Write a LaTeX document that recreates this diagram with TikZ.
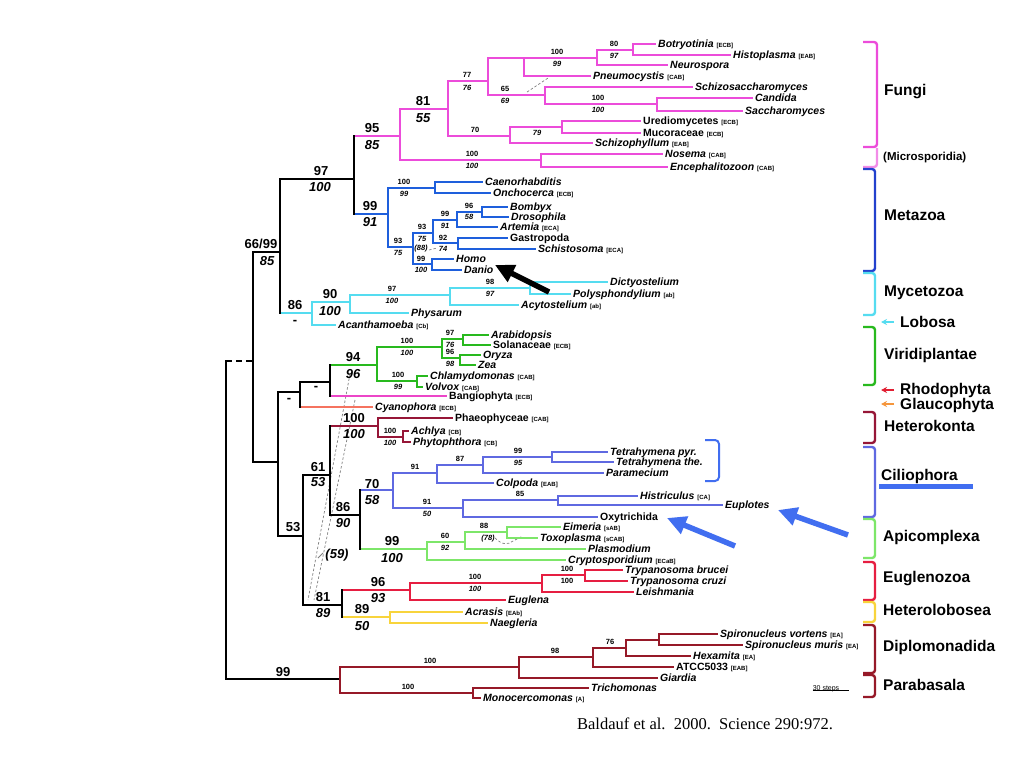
\documentclass[tikz,border=0pt]{standalone}
\usepackage{fontspec}
\setmainfont{Liberation Sans}
\newfontfamily\capfont{Liberation Serif}
\usetikzlibrary{arrows.meta}
\definecolor{cFu}{RGB}{236,76,218}
\definecolor{cFuL}{RGB}{242,140,232}
\definecolor{cMz}{RGB}{30,95,220}
\definecolor{cMzB}{RGB}{35,65,205}
\definecolor{cCy}{RGB}{85,220,240}
\definecolor{cGr}{RGB}{40,185,30}
\definecolor{cBa}{RGB}{236,70,200}
\definecolor{cCn}{RGB}{245,115,95}
\definecolor{cMr}{RGB}{150,22,55}
\definecolor{cCi}{RGB}{95,105,225}
\definecolor{cAp}{RGB}{125,230,105}
\definecolor{cEu}{RGB}{230,30,65}
\definecolor{cYl}{RGB}{248,212,60}
\definecolor{cDp}{RGB}{150,25,40}
\definecolor{cAr}{RGB}{65,110,240}
\definecolor{cRh}{RGB}{225,30,50}
\definecolor{cGl}{RGB}{245,150,60}
\newcommand{\tg}[1]{{\fontsize{6}{7}\selectfont\upshape[#1]}}
\newcommand{\edge}[4]{\draw[#2] (#3 |- #4) -- (#4); \draw[#1] (#3) -- (#3 |- #4);}
\begin{document}
\begin{tikzpicture}[x=1pt,y=-1pt,
  br/.style={line width=2.5pt,line cap=rect},
  bk/.style={br,black,line width=2.8pt},
  fu/.style={br,cFu}, mz/.style={br,cMz}, cy/.style={br,cCy}, gr/.style={br,cGr},
  ba/.style={br,cBa}, cn/.style={br,cCn}, mr/.style={br,cMr}, ci/.style={br,cCi},
  ap/.style={br,cAp}, eu/.style={br,cEu}, yl/.style={br,cYl}, dp/.style={br,cDp},
  tx/.style={anchor=west,inner xsep=3pt,inner ysep=0pt,text height=7.5pt,text depth=0pt,font=\fontsize{10.5}{12}\selectfont\bfseries\itshape},
  txu/.style={tx,font=\fontsize{10.5}{12}\selectfont\bfseries},
  sv/.style={inner sep=0pt,font=\fontsize{7.5}{9}\selectfont\bfseries},
  svi/.style={inner sep=0pt,font=\fontsize{7.5}{9}\selectfont\bfseries\itshape},
  bv/.style={inner sep=0pt,font=\fontsize{13}{15}\selectfont\bfseries},
  bvi/.style={inner sep=0pt,font=\fontsize{13}{15}\selectfont\bfseries\itshape},
  grp/.style={anchor=west,inner sep=0pt,font=\fontsize{15.5}{18}\selectfont\bfseries},
  brk/.style={line width=2.4pt,rounded corners=3pt},
  hint/.style={gray,line width=0.7pt,dash pattern=on 2.5pt off 2pt},
  bigarrow/.style={line width=5.5pt,-{Triangle[length=19pt,width=18pt]}},
  smallarrow/.style={line width=1.6pt,-{Stealth[length=6pt,width=6pt]}},
]
\fill[white] (0,0) rectangle (1024,768);
\useasboundingbox (0,0) rectangle (1024,768);

% ---------- internal nodes ----------
\coordinate (R) at (226,520);
\coordinate (N66) at (253,361);
\coordinate (N97) at (280,252);
\coordinate (N95) at (354,179);
\coordinate (Nb1) at (278,462);
\coordinate (Nrg) at (300,392);
\coordinate (Nvb) at (330,382);
\coordinate (Nb2) at (303,536);
\coordinate (Nb3) at (330,475);
\coordinate (Nb4) at (360,515);
\coordinate (Nb5) at (342,605);
\coordinate (Nd0) at (340,679);
\coordinate (Nf0) at (400,136);
\coordinate (Nf1) at (448,109);
\coordinate (Nf2) at (488,81);
\coordinate (Nf2a) at (524,58);
\coordinate (Nf3) at (597,58);
\coordinate (Nf4) at (633,50);
\coordinate (Nf5) at (545,95);
\coordinate (Nf6) at (657,104);
\coordinate (Nf7) at (510,136);
\coordinate (Nf8) at (562,127);
\coordinate (Nf9) at (541,160);
\coordinate (Nm0) at (388,214);
\coordinate (Nm1) at (435,188);
\coordinate (Nm2) at (413,247);
\coordinate (Nm3) at (433,233);
\coordinate (Nm4) at (457,220);
\coordinate (Nm5) at (482,212);
\coordinate (Nm6) at (458,243);
\coordinate (Nm7) at (432,264);
\coordinate (Nc0) at (312,313);
\coordinate (Nc1) at (350,302);
\coordinate (Nc2) at (450,295);
\coordinate (Nc3) at (530,288);
\coordinate (Nv0) at (377,365);
\coordinate (Nv1) at (442,347);
\coordinate (Nv2) at (463,339);
\coordinate (Nv3) at (460,358);
\coordinate (Nv4) at (417,381);
\coordinate (Nh0) at (378,426);
\coordinate (Nh1) at (403,437);
\coordinate (Nci0) at (393,490);
\coordinate (Nci1) at (437,473);
\coordinate (Nci2) at (483,465);
\coordinate (Nci3) at (552,457);
\coordinate (Nci4) at (463,508);
\coordinate (Nci5) at (558,500);
\coordinate (Na0) at (427,549);
\coordinate (Na1) at (465,542);
\coordinate (Na2) at (507,532);
\coordinate (Ne0) at (410,590);
\coordinate (Ne1) at (542,583);
\coordinate (Ne2) at (585,575);
\coordinate (Nhl) at (390,617);
\coordinate (Nd1) at (519,667);
\coordinate (Nd2) at (593,657);
\coordinate (Nd3) at (626,648);
\coordinate (Nd4) at (659,640);
\coordinate (Np) at (473,693);

% ---------- leaves ----------
\node[tx] (bot) at (655,44) {Botryotinia \tg{ECB}};
\node[tx] (his) at (730,55) {Histoplasma \tg{EAB}};
\node[tx] (neu) at (667,65) {Neurospora};
\node[tx] (pne) at (590,76) {Pneumocystis \tg{CAB}};
\node[tx] (sch) at (692,87) {Schizosaccharomyces};
\node[tx] (can) at (752,98) {Candida};
\node[tx] (sac) at (742,111) {Saccharomyces};
\node[txu] (ure) at (640,121) {Urediomycetes \tg{ECB}};
\node[txu] (muc) at (640,133) {Mucoraceae \tg{ECB}};
\node[tx] (szp) at (592,143) {Schizophyllum \tg{EAB}};
\node[tx] (nos) at (662,154) {Nosema \tg{CAB}};
\node[tx] (enc) at (667,167) {Encephalitozoon \tg{CAB}};
\node[tx] (cae) at (482,182) {Caenorhabditis};
\node[tx] (onc) at (490,193) {Onchocerca \tg{ECB}};
\node[tx] (bom) at (507,207) {Bombyx};
\node[tx] (dro) at (508,217) {Drosophila};
\node[tx] (art) at (497,227) {Artemia \tg{ECA}};
\node[txu] (gas) at (507,238) {Gastropoda};
\node[tx] (sct) at (535,249) {Schistosoma \tg{ECA}};
\node[tx] (hom) at (453,259) {Homo};
\node[tx] (dan) at (461,270) {Danio};
\node[tx] (dic) at (607,282) {Dictyostelium};
\node[tx] (pol) at (570,294) {Polysphondylium \tg{ab}};
\node[tx] (acy) at (518,305) {Acytostelium \tg{ab}};
\node[tx] (phy) at (408,313) {Physarum};
\node[tx] (aca) at (335,325) {Acanthamoeba \tg{Cb}};
\node[tx] (ara) at (488,335) {Arabidopsis};
\node[txu] (sol) at (490,345) {Solanaceae \tg{ECB}};
\node[tx] (ory) at (480,355) {Oryza};
\node[tx] (zea) at (475,365) {Zea};
\node[tx] (chl) at (427,376) {Chlamydomonas \tg{CAB}};
\node[tx] (vol) at (422,387) {Volvox \tg{CAB}};
\node[txu] (ban) at (446,396) {Bangiophyta \tg{ECB}};
\node[tx] (cya) at (372,407) {Cyanophora \tg{ECB}};
\node[txu] (pha) at (452,418) {Phaeophyceae \tg{CAB}};
\node[tx] (ach) at (408,431) {Achlya \tg{CB}};
\node[tx] (pht) at (410,442) {Phytophthora \tg{CB}};
\node[tx] (tpy) at (607,452) {Tetrahymena pyr.};
\node[tx] (tth) at (613,462) {Tetrahymena the.};
\node[tx] (par) at (603,473) {Paramecium};
\node[tx] (col) at (493,483) {Colpoda \tg{EAB}};
\node[tx] (hst) at (637,496) {Histriculus \tg{CA}};
\node[tx] (eup) at (722,505) {Euplotes};
\node[txu] (oxy) at (597,517) {Oxytrichida};
\node[tx] (eim) at (560,527) {Eimeria \tg{sAB}};
\node[tx] (tox) at (537,538) {Toxoplasma \tg{sCAB}};
\node[tx] (pla) at (585,549) {Plasmodium};
\node[tx] (cry) at (565,560) {Cryptosporidium \tg{ECaB}};
\node[tx] (tbr) at (622,570) {Trypanosoma brucei};
\node[tx] (tcr) at (627,581) {Trypanosoma cruzi};
\node[tx] (lei) at (633,592) {Leishmania};
\node[tx] (eug) at (505,600) {Euglena};
\node[tx] (acr) at (462,612) {Acrasis \tg{EAb}};
\node[tx] (nae) at (487,623) {Naegleria};
\node[tx] (svo) at (717,634) {Spironucleus vortens \tg{EA}};
\node[tx] (smu) at (742,645) {Spironucleus muris \tg{EA}};
\node[tx] (hex) at (690,656) {Hexamita \tg{EA}};
\node[txu] (atc) at (673,667) {ATCC5033 \tg{EAB}};
\node[tx] (gia) at (657,678) {Giardia};
\node[tx] (tri) at (588,688) {Trichomonas};
\node[tx] (mon) at (480,698) {Monocercomonas \tg{A}};

% ---------- hint lines ----------
\draw[hint] (350,374) -- (308,600);
\draw[hint] (355,400) -- (314,600);
\draw[hint] (527,92) -- (548,78);
\draw[hint] (429,250) -- (437,248);
\draw[hint] (495,538) .. controls (502,545) and (508,545) .. (513,541) -- (523,536);
\draw[gray,line width=0.8pt] (318,558) -- (323,553);

% ---------- backbone ----------
\draw[bk] (R) -- (R |- N66);
\draw[bk,line cap=butt,dash pattern=on 6pt off 4pt] (R |- N66) -- (N66);
\draw[bk] (R) |- (Nd0);
\draw[bk] (N66) |- (N97) (N66) |- (Nb1) (N97) |- (N95) (Nb1) |- (Nrg) (Nb1) |- (Nb2)
  (Nb2) |- (Nb3) (Nb2) |- (Nb5) (Nb3) |- (Nb4) (Nrg) |- (Nvb);
\edge{bk}{fu}{N95}{Nf0}
\edge{bk}{mz}{N95}{Nm0}
\edge{bk}{cy}{N97}{Nc0}
\edge{bk}{gr}{Nvb}{Nv0}
\edge{bk}{ba}{Nvb}{ban.west}
\edge{bk}{cn}{Nrg}{cya.west}
\edge{bk}{mr}{Nb3}{Nh0}
\edge{bk}{ci}{Nb4}{Nci0}
\edge{bk}{ap}{Nb4}{Na0}
\edge{bk}{eu}{Nb5}{Ne0}
\edge{bk}{yl}{Nb5}{Nhl}

% ---------- clades ----------
\draw[fu] (Nf0) |- (Nf1) (Nf0) |- (Nf9)
  (Nf1) |- (Nf2) (Nf1) |- (Nf7)
  (Nf2) |- (Nf2a) (Nf2) |- (Nf5)
  (Nf2a) |- (Nf3) (Nf2a) |- (pne.west)
  (Nf3) |- (Nf4) (Nf3) |- (neu.west)
  (Nf4) |- (bot.west) (Nf4) |- (his.west)
  (Nf5) |- (sch.west) (Nf5) |- (Nf6)
  (Nf6) |- (can.west) (Nf6) |- (sac.west)
  (Nf7) |- (Nf8) (Nf7) |- (szp.west)
  (Nf8) |- (ure.west) (Nf8) |- (muc.west)
  (Nf9) |- (nos.west) (Nf9) |- (enc.west);
\draw[mz] (Nm0) |- (Nm1) (Nm0) |- (Nm2)
  (Nm1) |- (cae.west) (Nm1) |- (onc.west)
  (Nm2) |- (Nm3) (Nm2) |- (Nm7)
  (Nm3) |- (Nm4) (Nm3) |- (Nm6)
  (Nm4) |- (Nm5) (Nm4) |- (art.west)
  (Nm5) |- (bom.west) (Nm5) |- (dro.west)
  (Nm6) |- (gas.west) (Nm6) |- (sct.west)
  (Nm7) |- (hom.west) (Nm7) |- (dan.west);
\draw[cy] (Nc0) |- (Nc1) (Nc0) |- (aca.west) (Nc1) |- (Nc2) (Nc1) |- (phy.west)
  (Nc2) |- (Nc3) (Nc2) |- (acy.west) (Nc3) |- (dic.west) (Nc3) |- (pol.west);
\draw[gr] (Nv0) |- (Nv1) (Nv0) |- (Nv4) (Nv1) |- (Nv2) (Nv1) |- (Nv3)
  (Nv2) |- (ara.west) (Nv2) |- (sol.west) (Nv3) |- (ory.west) (Nv3) |- (zea.west)
  (Nv4) |- (chl.west) (Nv4) |- (vol.west);
\draw[mr] (Nh0) |- (pha.west) (Nh0) |- (Nh1) (Nh1) |- (ach.west) (Nh1) |- (pht.west);
\draw[ci] (Nci0) |- (Nci1) (Nci0) |- (Nci4) (Nci1) |- (Nci2) (Nci1) |- (col.west)
  (Nci2) |- (Nci3) (Nci2) |- (par.west) (Nci3) |- (tpy.west) (Nci3) |- (tth.west)
  (Nci4) |- (Nci5) (Nci4) |- (oxy.west) (Nci5) |- (hst.west) (Nci5) |- (eup.west);
\draw[ap] (Na0) |- (Na1) (Na0) |- (cry.west) (Na1) |- (Na2) (Na1) |- (pla.west)
  (Na2) |- (eim.west) (Na2) |- (tox.west);
\draw[eu] (Ne0) |- (Ne1) (Ne0) |- (eug.west) (Ne1) |- (Ne2) (Ne1) |- (lei.west)
  (Ne2) |- (tbr.west) (Ne2) |- (tcr.west);
\draw[yl] (Nhl) |- (acr.west) (Nhl) |- (nae.west);
\draw[dp] (Nd0) |- (Nd1) (Nd0) |- (Np) (Nd1) |- (Nd2) (Nd1) |- (gia.west)
  (Nd2) |- (Nd3) (Nd2) |- (atc.west) (Nd3) |- (Nd4) (Nd3) |- (hex.west)
  (Nd4) |- (svo.west) (Nd4) |- (smu.west) (Np) |- (tri.west) (Np) |- (mon.west);

% ---------- support values: backbone ----------
\node[bv] (b1) at (321,171) {97};      \node[bvi] (b2) at (320,187) {100};
\node[bv] (b3) at (261,244) {66/99};   \node[bvi] (b4) at (267,261) {85};
\node[bv] (b5) at (372,128) {95};      \node[bvi] (b6) at (372,145) {85};
\node[bv] (b7) at (423,101) {81};      \node[bvi] (b8) at (423,118) {55};
\node[bv] (b9) at (370,206) {99};      \node[bvi] (b10) at (370,222) {91};
\node[bv] (b11) at (295,305) {86};     \node[bv] (b12) at (295,322) {-};
\node[bv] (b13) at (330,294) {90};     \node[bvi] (b14) at (330,311) {100};
\node[bv] (b15) at (353,357) {94};     \node[bvi] (b16) at (353,374) {96};
\node[bv] (b17) at (316,388) {-};      \node[bv] (b18) at (289,400) {-};
\node[bv] (b19) at (293,527) {53};
\node[bv] (b20) at (318,467) {61};     \node[bvi] (b21) at (318,482) {53};
\node[bv] (b22) at (354,418) {100};    \node[bvi] (b23) at (354,434) {100};
\node[bv] (b24) at (343,507) {86};     \node[bvi] (b25) at (343,523) {90};
\node[bv] (b26) at (372,484) {70};     \node[bvi] (b27) at (372,500) {58};
\node[bv] (b28) at (392,541) {99};     \node[bvi] (b29) at (392,558) {100};
\node[bv] (b30) at (323,597) {81};     \node[bvi] (b31) at (323,613) {89};
\node[bv] (b32) at (378,582) {96};     \node[bvi] (b33) at (378,598) {93};
\node[bv] (b34) at (362,609) {89};     \node[bvi] (b35) at (362,626) {50};
\node[bvi] (b36) at (337,555) {(59)};
\node[bv] (b37) at (283,672) {99};

% ---------- support values: small ----------
\node[sv] (s1) at (467,75) {77};    \node[svi] (s2) at (467,88) {76};
\node[sv] (s3) at (557,52) {100};   \node[svi] (s4) at (557,64) {99};
\node[sv] (s5) at (614,44) {80};    \node[svi] (s6) at (614,56) {97};
\node[sv] (s7) at (505,89) {65};    \node[svi] (s8) at (505,101) {69};
\node[sv] (s9) at (598,98) {100};   \node[svi] (s10) at (598,110) {100};
\node[sv] (s11) at (475,130) {70};
\node[svi] (s12) at (537,133) {79};
\node[sv] (s13) at (472,154) {100}; \node[svi] (s14) at (472,166) {100};
\node[sv] (s15) at (404,182) {100}; \node[svi] (s16) at (404,194) {99};
\node[sv] (s17) at (398,241) {93};  \node[svi] (s18) at (398,253) {75};
\node[sv] (s19) at (422,227) {93};  \node[svi] (s20) at (422,239) {75};
\node[sv] (s21) at (445,214) {99};  \node[svi] (s22) at (445,226) {91};
\node[sv] (s23) at (469,206) {96};  \node[svi] (s24) at (469,217) {58};
\node[sv] (s25) at (443,238) {92};  \node[svi] (s26) at (443,249) {74};
\node[svi] (s27) at (421,249) {(88)};
\node[sv] (s28) at (421,259) {99};  \node[svi] (s29) at (421,270) {100};
\node[sv] (s30) at (392,289) {97};  \node[svi] (s31) at (392,301) {100};
\node[sv] (s32) at (490,282) {98};  \node[svi] (s33) at (490,294) {97};
\node[sv] (s34) at (407,341) {100}; \node[svi] (s35) at (407,353) {100};
\node[sv] (s36) at (450,333) {97};  \node[svi] (s37) at (450,345) {76};
\node[sv] (s38) at (450,352) {96};  \node[svi] (s39) at (450,364) {98};
\node[sv] (s40) at (398,375) {100}; \node[svi] (s41) at (398,387) {99};
\node[sv] (s42) at (390,431) {100}; \node[svi] (s43) at (390,443) {100};
\node[sv] (s44) at (415,467) {91};
\node[sv] (s45) at (460,459) {87};
\node[sv] (s46) at (518,451) {99};  \node[svi] (s47) at (518,463) {95};
\node[sv] (s48) at (427,502) {91};  \node[svi] (s49) at (427,514) {50};
\node[sv] (s50) at (520,494) {85};
\node[sv] (s51) at (445,536) {60};  \node[svi] (s52) at (445,548) {92};
\node[sv] (s53) at (484,526) {88};
\node[svi] (s54) at (488,539) {(78)};
\node[sv] (s55) at (475,577) {100}; \node[svi] (s56) at (475,589) {100};
\node[sv] (s57) at (567,569) {100}; \node[sv] (s58) at (567,581) {100};
\node[sv] (s59) at (430,661) {100};
\node[sv] (s60) at (408,687) {100};
\node[sv] (s61) at (555,651) {98};
\node[sv] (s62) at (610,642) {76};

% ---------- Tetrahymena bracket ----------
\draw[cAr,line width=2pt,rounded corners=4pt] (705,440) -- (719,440) -- (719,481) -- (705,481);

% ---------- arrows ----------
\coordinate (ka) at (549,292); \coordinate (kb) at (495,265);
\draw[bigarrow,black] (ka) -- (kb);
\coordinate (ua) at (735,546); \coordinate (ub) at (667,518);
\draw[bigarrow,cAr] (ua) -- (ub);
\coordinate (va) at (848,535); \coordinate (vb) at (778,510);
\draw[bigarrow,cAr] (va) -- (vb);

% ---------- group brackets ----------
\draw[brk,cFu] (863,42) -- (877,42) -- (877,147) -- (863,147);
\draw[brk,cFuL] (877,148) -- (877,167) -- (863,167);
\draw[brk,cMzB] (863,169) -- (875,169) -- (875,271) -- (863,271);
\draw[brk,cCy] (863,273) -- (875,273) -- (875,315) -- (863,315);
\draw[brk,cGr] (863,327) -- (875,327) -- (875,385) -- (863,385);
\draw[brk,cMr] (863,412) -- (875,412) -- (875,443) -- (863,443);
\draw[brk,cCi] (863,447) -- (875,447) -- (875,517) -- (863,517);
\draw[brk,cAp] (863,519) -- (875,519) -- (875,558) -- (863,558);
\draw[brk,cEu] (863,562) -- (875,562) -- (875,600) -- (863,600);
\draw[brk,cYl] (863,602) -- (875,602) -- (875,622) -- (863,622);
\draw[brk,cDp] (863,625) -- (875,625) -- (875,673) -- (863,673);
\draw[brk,cDp] (863,675) -- (875,675) -- (875,697) -- (863,697);
\draw[smallarrow,cCy] (894,322) -- (881,322);
\draw[smallarrow,cRh] (894,390) -- (881,390);
\draw[smallarrow,cGl] (894,404) -- (881,404);
\draw[cAr,line width=5pt] (879,486) -- (973,486);

% ---------- group labels ----------
\node[grp] (gFu) at (884,92) {Fungi};
\node[grp,font=\fontsize{11.5}{13}\selectfont\bfseries] (gMs) at (883,158) {(Microsporidia)};
\node[grp] (gMz) at (884,215) {Metazoa};
\node[grp] (gMy) at (884,293) {Mycetozoa};
\node[grp] (gLo) at (900,322) {Lobosa};
\node[grp] (gVi) at (884,355) {Viridiplantae};
\node[grp] (gRh) at (900,390) {Rhodophyta};
\node[grp] (gGl) at (900,405) {Glaucophyta};
\node[grp] (gHk) at (884,426) {Heterokonta};
\node[grp] (gCi) at (881,476) {Ciliophora};
\node[grp] (gAp) at (883,537) {Apicomplexa};
\node[grp] (gEu) at (883,579) {Euglenozoa};
\node[grp] (gHl) at (883,610) {Heterolobosea};
\node[grp] (gDi) at (883,647) {Diplomonadida};
\node[grp] (gPa) at (883,685) {Parabasala};

% ---------- scale bar and caption ----------
\node[inner sep=0pt,font=\fontsize{7}{8}\selectfont] (scl) at (826,689) {30 steps};
\draw[line width=0.6pt] (scl.south west) ++(0,-2.5) -- ++(36,0);
\node[inner sep=0pt,font=\capfont\fontsize{16.5}{19}\selectfont] (cap) at (705,724) {Baldauf et al.\ \ 2000.\ \ Science 290:972.};
\end{tikzpicture}
\end{document}
